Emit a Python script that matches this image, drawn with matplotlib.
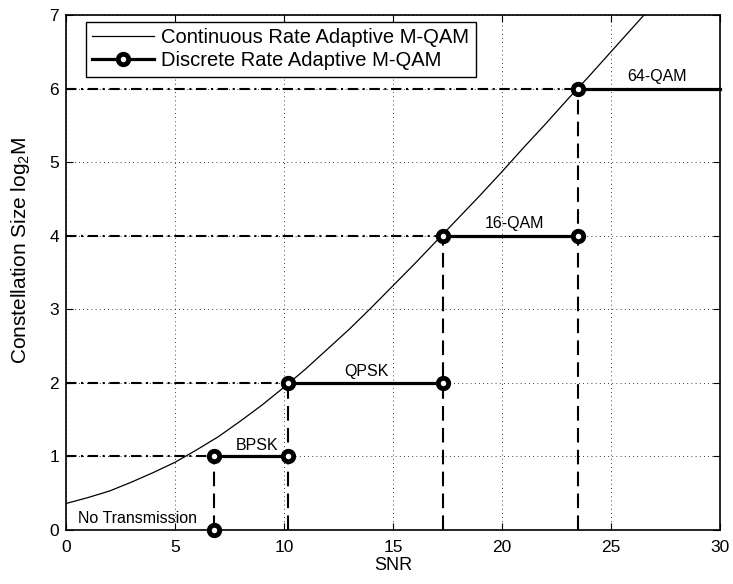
import matplotlib
matplotlib.use('Agg')
import matplotlib.pyplot as plt
import numpy as np

plt.rcParams['font.family'] = ['Liberation Sans', 'DejaVu Sans']
plt.rcParams['mathtext.fontset'] = 'custom'
plt.rcParams['mathtext.rm'] = 'Liberation Sans'
plt.rcParams['mathtext.it'] = 'Liberation Sans:italic'

# continuous rate curve (SNR in dB vs log2 M)
snr_cont = [0, 1, 2, 3, 4, 5, 6, 7, 8, 9, 10, 11, 12, 13, 14,
            15, 16, 17, 18, 19, 20, 21, 22, 23, 24, 25, 26, 27]
bits_cont = [0.36, 0.44, 0.53, 0.65, 0.78, 0.92, 1.09, 1.27, 1.48, 1.70,
             1.94, 2.19, 2.46, 2.73, 3.02, 3.32, 3.62, 3.93, 4.24, 4.55,
             4.87, 5.20, 5.52, 5.85, 6.17, 6.50, 6.83, 7.16]

# switching thresholds and constellation sizes
thresholds = [6.8, 10.2, 17.3, 23.5]
levels = [1, 2, 4, 6]
snr_max = 30
region_names = ['BPSK', 'QPSK', '16-QAM', '64-QAM']
label_x = [8.75, 13.8, 20.6, 27.1]
label_y = [1.09, 2.09, 4.1, 6.1]

fig, ax = plt.subplots(figsize=(7.33, 5.84), dpi=100)
fig.subplots_adjust(left=0.090, right=0.982, top=0.974, bottom=0.0925)

ax.plot(snr_cont, bits_cont, color='black', lw=0.9,
        label='Continuous Rate Adaptive M-QAM')

# guide lines: dash-dot across to each level, dashed down to the axis
for t, lv in zip(thresholds, levels):
    ax.plot([0, t], [lv, lv], color='black', lw=1.5, ls=(0, (5, 2.2, 1, 2.2)))
    ax.plot([t, t], [0, lv], color='black', lw=1.5, ls=(0, (7, 3.5)))

# discrete steps
xs, ys = [thresholds[0]], [0]
ends = thresholds[1:] + [snr_max]
for t, e, lv in zip(thresholds, ends, levels):
    xs += [np.nan, t, e]
    ys += [np.nan, lv, lv]
marks = [i for i, x in enumerate(xs) if not np.isnan(x) and x != snr_max]
ax.plot(xs, ys, color='black', lw=2.3, marker='o', ms=7.5, mfc='white',
        mec='black', mew=3.5, markevery=marks,
        label='Discrete Rate Adaptive M-QAM', clip_on=False, zorder=5)

for name, lx, ly in zip(region_names, label_x, label_y):
    ax.text(lx, ly, name, ha='center', va='baseline', fontsize=11.5)
ax.text(3.3, 0.09, 'No Transmission', ha='center', va='baseline', fontsize=11.5)

ax.set_xlim(0, 30)
ax.set_ylim(0, 7)
ax.set_xticks(range(0, 31, 5))
ax.set_yticks(range(0, 8))
ax.tick_params(direction='in', labelsize=12.5, length=5, top=True, right=True)
ax.tick_params(axis='x', pad=7)
ax.tick_params(axis='y', pad=5)
ax.grid(True, ls=(0, (1, 4)), color='black', lw=0.6)
ax.set_xlabel('SNR', fontsize=13, labelpad=2)
ax.set_ylabel('Constellation Size log$_2$M', fontsize=15)
ax.yaxis.set_label_coords(-0.052, 0.543)
for s in ax.spines.values():
    s.set_linewidth(1.2)

leg = ax.legend(loc='upper left', bbox_to_anchor=(0.0306, 0.986),
                borderaxespad=0, fontsize=14.5, frameon=True, fancybox=False,
                edgecolor='black', framealpha=1, borderpad=0.3,
                labelspacing=0.2, handlelength=3.1, handletextpad=0.35)
leg.get_frame().set_linewidth(1.0)

fig.savefig('out.png', dpi=100)
